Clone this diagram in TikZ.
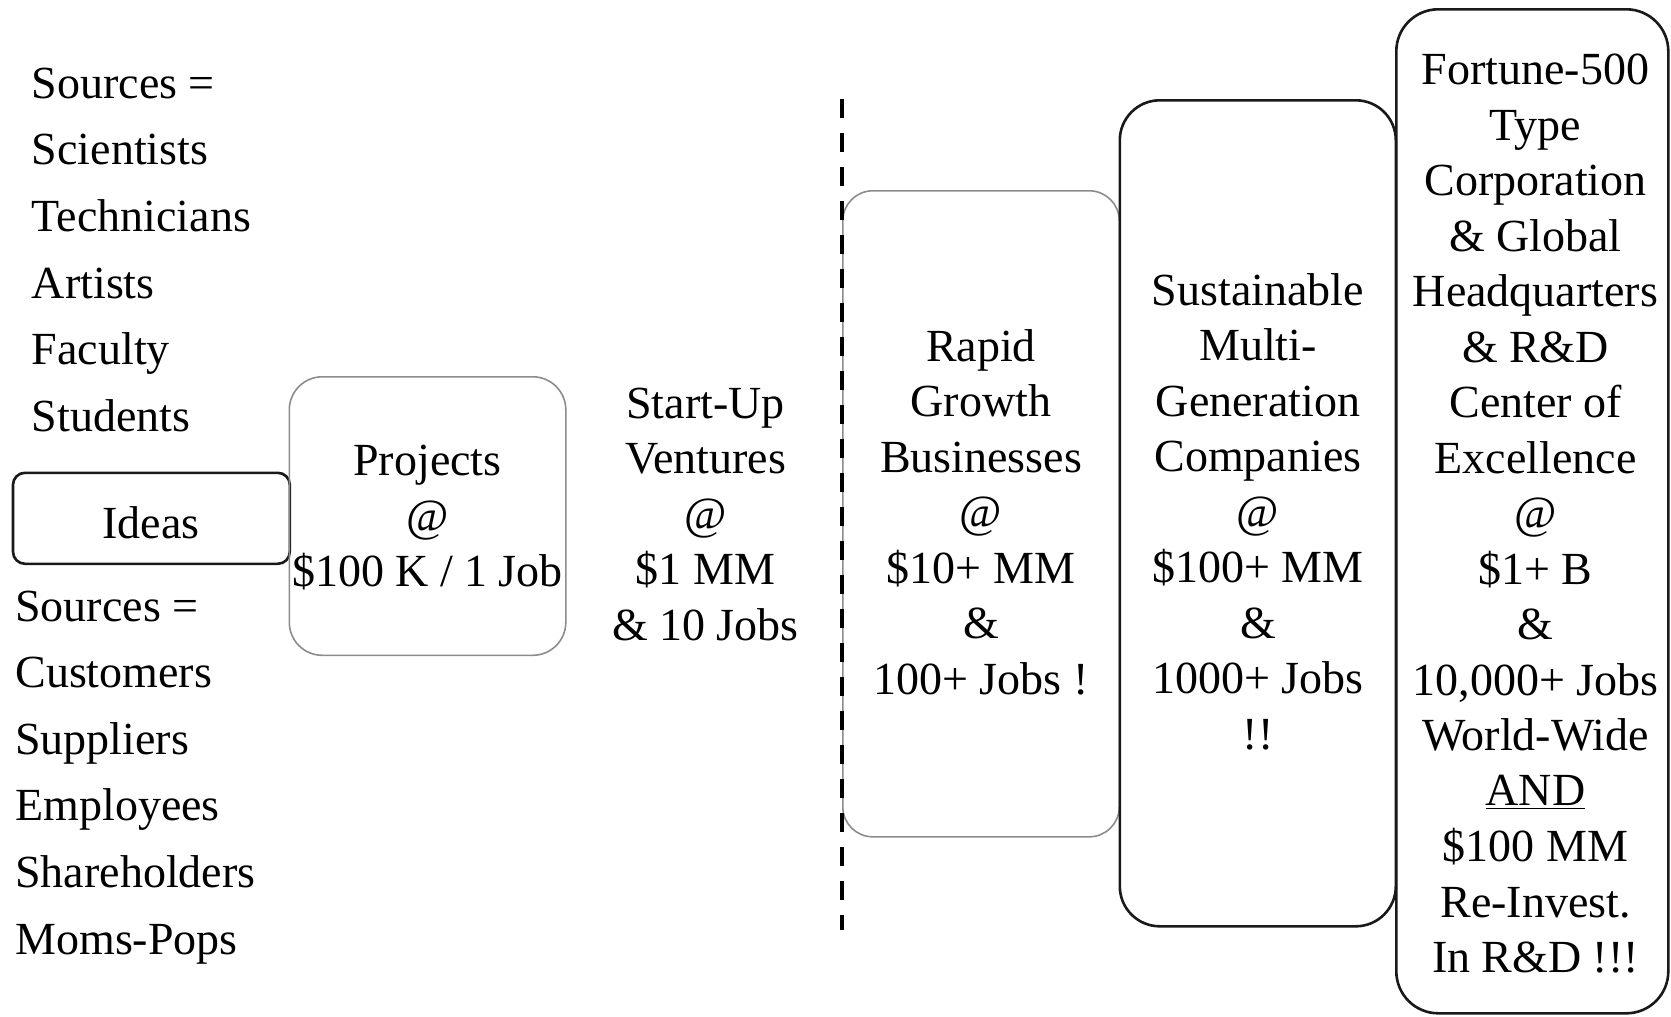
\documentclass[tikz,border=0pt]{standalone}
\usepackage{fontspec}
\setmainfont{Liberation Serif}
\newcommand\myboxfnt{\fontsize{23pt}{27.75pt}\selectfont}
\newcommand\mylistfnt{\fontsize{23pt}{33.33pt}\selectfont}
\begin{document}
\begin{tikzpicture}[x=0.5pt,y=-0.5pt,
  boxfont/.style={font=\myboxfnt},
  listfont/.style={font=\mylistfnt},
  tightsp/.style={execute at begin node={\spaceskip=5.7pt\xspaceskip=5.7pt\relax}},
  ctext/.style={boxfont, text width=150pt, align=center, inner sep=0pt, anchor=base, tightsp},
  ltext/.style={listfont, text width=160pt, align=left, inner sep=0pt, anchor=base west, tightsp},
  graybox/.style={draw=black!45, line width=0.8pt, inner sep=0pt, anchor=north west},
  darkbox/.style={draw=black!90, line width=1.3pt, inner sep=0pt, anchor=north west},
  divider/.style={draw=black, line width=1.6pt, dash pattern=on 9.5pt off 7.5pt}]
\useasboundingbox (0,0) rectangle (1671,1017);

% boxes
\node[darkbox, rounded corners=6pt, minimum width=138.4pt, minimum height=45.5pt] (ideasbox) at (11.7,471.5) {};
\node[graybox, rounded corners=16.5pt, minimum width=138.25pt, minimum height=139.25pt] (projbox) at (288.5,376) {};
\node[graybox, rounded corners=15pt, minimum width=138.25pt, minimum height=323pt] (rapidbox) at (842,190) {};
\node[darkbox, rounded corners=20pt, minimum width=138pt, minimum height=413pt] (sustbox) at (1118.5,99) {};
\node[darkbox, rounded corners=21pt, minimum width=136pt, minimum height=502pt] (fortbox) at (1395,8) {};

% dashed divider
\coordinate (dtop) at (842,99);
\coordinate (dbot) at (842,930);
\draw[divider] (dtop) -- (dbot);

% left lists
\node[ltext] (toplist) at (31.5,98.3) {Sources =\\Scientists\\Technicians\\Artists\\Faculty\\Students};
\node[ltext] (botlist) at (15,621) {Sources =\\Customers\\Suppliers\\Employees\\Shareholders\\Moms-Pops};

% box texts
\node[boxfont, inner sep=0pt, anchor=base] (ideas) at (151,538) {Ideas};
\node[ctext] (projects) at (427.5,475.5) {Projects\\@\\\$100 K / 1 Job};
\node[ctext] (startup) at (705.5,418) {Start-Up\\Ventures\\@\\\$1 MM\\\& 10 Jobs};
\node[ctext] (rapid) at (981,361) {Rapid\\Growth\\Businesses\\@\\\$10+ MM\\\&\\100+ Jobs !};
\node[ctext] (sust) at (1258,305) {Sustainable\\Multi-\\Generation\\Companies\\@\\\$100+ MM\\\&\\1000+ Jobs\\!!};
\node[ctext] (fortune) at (1535.5,84.5) {Fortune-500\\Type\\Corporation\\\& Global\\Headquarters\\\& R\&D\\Center of\\Excellence\\@\\\$1+ B\\\&\\10,000+ Jobs\\World-Wide\\\underline{AND}\\\$100 MM\\Re-Invest.\\In R\&D !!!};
\end{tikzpicture}
\end{document}
